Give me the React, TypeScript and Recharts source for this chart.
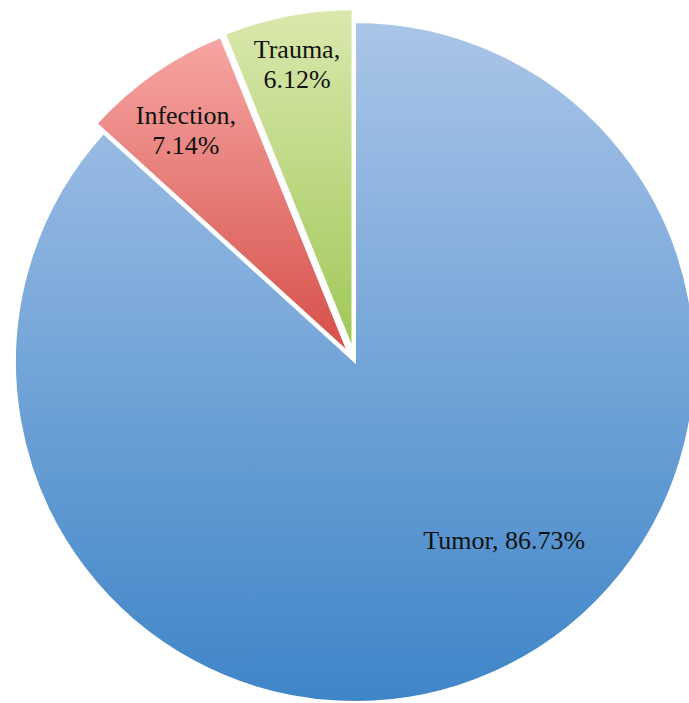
import { Cell, Pie, PieChart } from "recharts";

// Slices in clockwise order from 12 o'clock.
const CATEGORIES = ["Tumor", "Infection", "Trauma"];
const SHARES = [86.73, 7.14, 6.12];

// Which slices are pulled out of the pie, and by how many px.
const EXPLODE = [0, 12, 13];
// Top/bottom stops of the vertical gradient on each slice.
const GRADIENTS = [
	["#aac5e8", "#3e85c8"],
	["#f6a6a3", "#d64f49"],
	["#dae8ad", "#9fc858"],
];
// Label placement: fraction of the radius and an angle nudge (deg, clockwise).
const LABEL_RADIUS = [0.685, 0.81, 0.855];
const LABEL_NUDGE = [-16, -1.2, 0];

const WIDTH = 689;
const HEIGHT = 703;
const CX = 355;
const CY = 362;
const RADIUS = 340;
const RAD = Math.PI / 180;

const data = CATEGORIES.map((name, i) => ({ name, value: SHARES[i] }));
const total = SHARES.reduce((a, b) => a + b, 0);

// Mid angle of each slice, clockwise from the top.
const midTheta = SHARES.map((v, i) => {
	const before = SHARES.slice(0, i).reduce((a, b) => a + b, 0);
	return ((before + v / 2) / total) * 360;
});

function sliceLabel(target: number) {
	return (props: any) => {
		if (props.index !== target) return null;
		const theta = (90 - props.midAngle + LABEL_NUDGE[target]) * RAD;
		const r = props.outerRadius * LABEL_RADIUS[target];
		const x = props.cx + r * Math.sin(theta);
		const y = props.cy - r * Math.cos(theta);
		const name = CATEGORIES[target];
		const pct = `${SHARES[target].toFixed(2)}%`;
		const common = {
			x,
			textAnchor: "middle" as const,
			fill: "#111",
			fontFamily: "'Liberation Serif', 'Times New Roman', serif",
			fontSize: 26,
		};
		if (target === 0) {
			return (
				<text {...common} y={y} dominantBaseline="central">
					{`${name}, ${pct}`}
				</text>
			);
		}
		return (
			<text {...common} y={y - 15} dominantBaseline="central">
				<tspan x={x}>{`${name},`}</tspan>
				<tspan x={x} dy={30}>
					{pct}
				</tspan>
			</text>
		);
	};
}

export default function App() {
	return (
		<div style={{ position: "fixed", left: 0, top: 0, width: WIDTH, height: HEIGHT, background: "#fff" }}>
			<PieChart width={WIDTH} height={HEIGHT} margin={{ top: 0, right: 0, bottom: 0, left: 0 }}>
				<defs>
					{GRADIENTS.map(([top, bottom], i) => (
						<linearGradient key={i} id={`grad-${i}`} x1="0" y1="0" x2="0" y2="1">
							<stop offset="0%" stopColor={top} />
							<stop offset="100%" stopColor={bottom} />
						</linearGradient>
					))}
				</defs>
				{CATEGORIES.map((_, target) => {
					const t = midTheta[target] * RAD;
					const cx = CX + EXPLODE[target] * Math.sin(t);
					const cy = CY - EXPLODE[target] * Math.cos(t);
					return (
						<Pie
							key={target}
							data={data}
							dataKey="value"
							nameKey="name"
							cx={cx}
							cy={cy}
							outerRadius={RADIUS}
							startAngle={90}
							endAngle={-270}
							label={sliceLabel(target)}
							labelLine={false}
							isAnimationActive={false}
						>
							{data.map((d, i) => (
								<Cell
									key={d.name}
									fill={i === target ? `url(#grad-${i})` : "none"}
									stroke={i === target ? "#fff" : "none"}
									strokeWidth={2}
								/>
							))}
						</Pie>
					);
				})}
			</PieChart>
		</div>
	);
}
